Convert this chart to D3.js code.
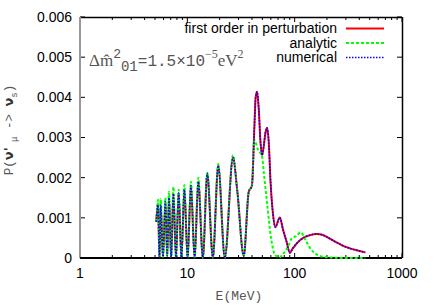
<!DOCTYPE html>
<html>
<head>
<meta charset="utf-8">
<script src="https://cdn.jsdelivr.net/npm/d3@7"></script>
<style>
  body { margin: 0; background: #fff; }
  svg { display: block; }
</style>
</head>
<body>
<svg id="chart"></svg>
<script>
const w = 436
const h = 305
const margin = {top: 17, right: 34, bottom: 47, left: 80}

// energies in MeV and probabilities
const energyRed = [5.13, 5.33, 5.50, 5.65, 5.93, 6.25, 6.49, 6.75, 7.07, 7.41, 7.84, 8.30, 8.81, 9.38, 10.06, 10.8, 11.69, 12.65, 13.95, 15.34, 17.29, 19.40, 22.35, 26.63, 29.13, 33.55, 37.33, 39.97, 42.2, 43.3, 44.67, 46.3, 48.0, 49.71, 51.6, 53.3, 55.32, 57.3, 59.6, 62.8, 66.05, 72.7, 78.0, 84.0, 90.06, 96.0, 112.7, 139.6, 160.0, 180.0, 210.0, 245.0, 290.0, 328.2, 370.0, 455.0]
const probRed = [0.0009, 0.00132, 0.00002, 0.00132, 0.00003, 0.0014, 0.00005, 0.0015, 0.00002, 0.0016, 0.00002, 0.00162, 0.00001, 0.0017, 0.00001, 0.0018, 0.00001, 0.0019, 0.00001, 0.0021, 0.00001, 0.0023, 0.00001, 0.0025, 0.0017, 0.00005, 0.00165, 0.0018, 0.0033, 0.0040, 0.00414, 0.0037, 0.0029, 0.00256, 0.0028, 0.0031, 0.00324, 0.0029, 0.0019, 0.0011, 0.00077, 0.00101, 0.0007, 0.00041, 0.00013, 0.00024, 0.00045, 0.00057, 0.0006, 0.00058, 0.00049, 0.00039, 0.00029, 0.00024, 0.0002, 0.00014]

const energyGreen = [5.13, 5.33, 5.50, 5.65, 5.93, 6.25, 6.49, 6.75, 7.07, 7.41, 7.84, 8.30, 8.81, 9.38, 10.06, 10.8, 11.69, 12.65, 13.95, 15.34, 17.29, 19.40, 22.35, 26.63, 29.13, 33.55, 37.33, 39.97, 42.0, 45.5, 49.71, 51.6, 55.32, 60.6, 66.0, 72.7, 78.0, 88.0, 94.0, 104.0, 114.0, 125.0, 139.6, 160.0, 185.0, 230.0, 300.0, 455.0]
const probGreen = [0.0009, 0.00145, 0.00002, 0.00147, 0.00003, 0.0015, 0.00005, 0.00165, 0.00002, 0.00177, 0.00002, 0.0017, 0.00001, 0.00182, 0.00001, 0.0019, 0.00001, 0.002, 0.00001, 0.00212, 0.00001, 0.00234, 0.00001, 0.00256, 0.0017, 0.00005, 0.00165, 0.0018, 0.00294, 0.0027, 0.00252, 0.00212, 0.00137, 0.00045, 0.00007, 0.00002, 0.0001, 0.00032, 0.00049, 0.00055, 0.00064, 0.00047, 0.00024, 0.00009, 0.00003, 0.00001, 0.0, 0.0]

const energyBlue = energyRed
const probBlue = probRed

const yTicks = [0, 0.001, 0.002, 0.003, 0.004, 0.005, 0.006]
const xTicks = [1, 10, 100, 1000]
const legendNames = ["first order in perturbation", "analytic", "numerical"]

const svg = d3.select("#chart")
  .attr("width", w)
  .attr("height", h)

const xScale = d3.scaleLog()
  .domain([1, 1000])
  .range([margin.left, w - margin.right])

const yScale = d3.scaleLinear()
  .domain([0, 0.006])
  .range([h - margin.bottom, margin.top])

const x0 = margin.left, x1 = w - margin.right
const y0 = h - margin.bottom, y1 = margin.top

// minor + major ticks on x (inside, top and bottom)
const minor = []
for (let d = 1; d < 1000; d *= 10) {
  for (let k = 2; k <= 9; k++) minor.push(d * k)
}
svg.append("g").selectAll("line")
  .data(minor)
  .enter()
  .append("line")
  .attr("x1", d => xScale(d)).attr("x2", d => xScale(d))
  .attr("y1", y0).attr("y2", y0 - 3)
  .attr("stroke", "#000").attr("stroke-width", 1)
svg.append("g").selectAll("line")
  .data(minor)
  .enter()
  .append("line")
  .attr("x1", d => xScale(d)).attr("x2", d => xScale(d))
  .attr("y1", y1).attr("y2", y1 + 3)
  .attr("stroke", "#000").attr("stroke-width", 1)
svg.append("g").selectAll("line")
  .data(xTicks)
  .enter()
  .append("line")
  .attr("x1", d => xScale(d)).attr("x2", d => xScale(d))
  .attr("y1", y0).attr("y2", y0 - 5)
  .attr("stroke", "#000").attr("stroke-width", 1)
svg.append("g").selectAll("line")
  .data(xTicks)
  .enter()
  .append("line")
  .attr("x1", d => xScale(d)).attr("x2", d => xScale(d))
  .attr("y1", y1).attr("y2", y1 + 5)
  .attr("stroke", "#000").attr("stroke-width", 1)

// y ticks, left and right, inward
svg.append("g").selectAll("line")
  .data(yTicks)
  .enter()
  .append("line")
  .attr("x1", x0).attr("x2", x0 + 5)
  .attr("y1", d => yScale(d)).attr("y2", d => yScale(d))
  .attr("stroke", "#000").attr("stroke-width", 1)
svg.append("g").selectAll("line")
  .data(yTicks)
  .enter()
  .append("line")
  .attr("x1", x1).attr("x2", x1 - 5)
  .attr("y1", d => yScale(d)).attr("y2", d => yScale(d))
  .attr("stroke", "#000").attr("stroke-width", 1)

// frame
svg.append("line").attr("x1", x0).attr("x2", x1).attr("y1", y1 + 0.5).attr("y2", y1 + 0.5)
  .attr("stroke", "#000").attr("stroke-width", 1.5)
svg.append("line").attr("x1", x1 + 0.5).attr("x2", x1 + 0.5).attr("y1", y1).attr("y2", y0)
  .attr("stroke", "#000").attr("stroke-width", 1.5)
svg.append("line").attr("x1", x0).attr("x2", x0).attr("y1", y1).attr("y2", y0)
  .attr("stroke", "#999").attr("stroke-width", 2)
svg.append("line").attr("x1", x0).attr("x2", x1).attr("y1", y0).attr("y2", y0)
  .attr("stroke", "#000").attr("stroke-width", 2)

// tick labels
svg.append("g").selectAll("text")
  .data(yTicks)
  .enter()
  .append("text")
  .attr("x", x0 - 8)
  .attr("y", d => yScale(d))
  .attr("dy", "0.35em")
  .attr("text-anchor", "end")
  .attr("font-family", "Liberation Sans, Arial, sans-serif")
  .attr("font-size", 14)
  .text(d => d === 0 ? "0" : d3.format(".3f")(d))

svg.append("g").selectAll("text")
  .data(xTicks)
  .enter()
  .append("text")
  .attr("x", d => xScale(d))
  .attr("y", y0 + 15)
  .attr("dy", "0.35em")
  .attr("text-anchor", "middle")
  .attr("font-family", "Liberation Sans, Arial, sans-serif")
  .attr("font-size", 14)
  .text(d => d)

// axis titles
svg.append("text")
  .attr("x", 239)
  .attr("y", 300)
  .attr("text-anchor", "middle")
  .attr("font-family", "Liberation Mono, monospace")
  .attr("font-size", 13)
  .attr("fill", "#555")
  .text("E(MeV)")

const yTitle = svg.append("text")
  .attr("transform", "translate(13,130) rotate(-90)")
  .attr("text-anchor", "middle")
  .attr("font-family", "Liberation Mono, monospace")
  .attr("font-size", 12.5)
  .attr("fill", "#555")
yTitle.append("tspan").text("P(")
yTitle.append("tspan").attr("font-family", "DejaVu Sans, sans-serif").attr("font-weight", "bold").attr("font-size", 13).attr("fill", "#333").text("ν'")
yTitle.append("tspan").attr("font-size", 9).attr("dy", 4).text(" μ")
yTitle.append("tspan").attr("dy", -4).text(" -> ")
yTitle.append("tspan").attr("font-family", "DejaVu Sans, sans-serif").attr("font-weight", "bold").attr("font-size", 13).attr("fill", "#333").text("ν")
yTitle.append("tspan").attr("font-size", 9).attr("dy", 4).text("s")
yTitle.append("tspan").attr("dy", -4).text(")")

// annotation
const note = svg.append("text")
  .attr("x", 89)
  .attr("y", 66)
  .attr("font-family", "Liberation Mono, monospace")
  .attr("font-size", 16)
  .attr("fill", "#555")
note.append("tspan").attr("font-family", "Liberation Serif, serif").attr("font-size", 17).text("Δm\u0302")
note.append("tspan").attr("dy", -8).attr("font-size", 13).text("2")
note.append("tspan").attr("dy", 13).attr("font-size", 14).text("01")
note.append("tspan").attr("dy", -5).text("=1.5×10")
note.append("tspan").attr("dy", -8).attr("font-family", "Liberation Serif, serif").attr("font-size", 12).text("−5")
note.append("tspan").attr("dy", 8).attr("font-family", "Liberation Serif, serif").attr("font-size", 17).text("eV")
note.append("tspan").attr("dy", -8).attr("font-family", "Liberation Serif, serif").attr("font-size", 12).text("2")

// curves
const line = d3.line()
  .x(d => xScale(d[0]))
  .y(d => yScale(d[1]))
  .curve(d3.curveMonotoneX)

const series = [
  {data: d3.zip(energyRed, probRed), color: "#ff0000", width: 2, dash: null},
  {data: d3.zip(energyGreen, probGreen), color: "#00ff00", width: 2, dash: "3,2"},
  {data: d3.zip(energyBlue, probBlue), color: "#0000ff", width: 1.6, dash: "1.5,1.5"}
]

svg.append("g").selectAll("path")
  .data(series)
  .enter()
  .append("path")
  .attr("d", d => line(d.data))
  .attr("fill", "none")
  .attr("stroke", d => d.color)
  .attr("stroke-width", d => d.width)
  .attr("stroke-dasharray", d => d.dash)

// legend
const legend = svg.append("g")
legendNames.forEach((name, i) => {
  const ly = 28.5 + i * 14.5
  legend.append("text")
    .attr("x", 337)
    .attr("y", ly)
    .attr("dy", "0.35em")
    .attr("text-anchor", "end")
    .attr("font-family", "Liberation Sans, Arial, sans-serif")
    .attr("font-size", 14)
    .text(name)
  legend.append("line")
    .attr("x1", 346).attr("x2", 384)
    .attr("y1", ly).attr("y2", ly)
    .attr("stroke", series[i].color)
    .attr("stroke-width", series[i].width)
    .attr("stroke-dasharray", series[i].dash)
})
</script>
</body>
</html>
